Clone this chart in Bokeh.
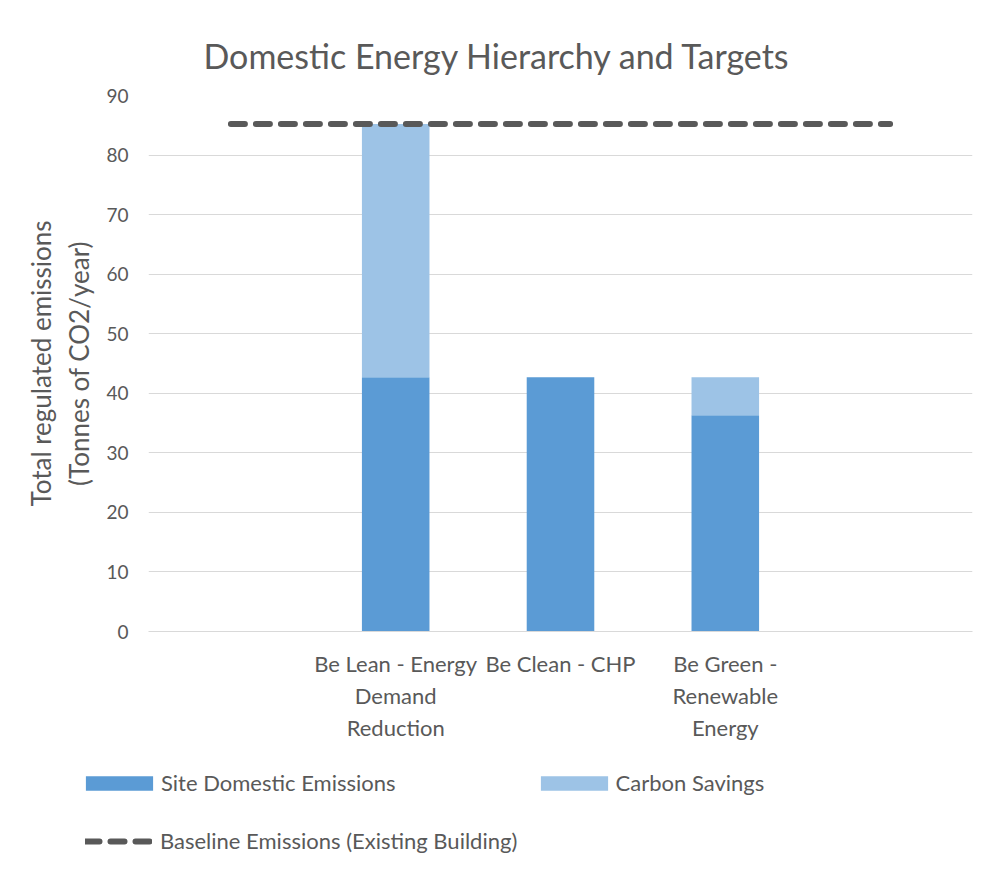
from bokeh.plotting import figure
from bokeh.models import FactorRange, Range1d, Legend, LegendItem, ColumnDataSource
from bokeh.layouts import column, row
from bokeh.embed import file_html
from bokeh.resources import INLINE

# ---- data ----
categories = ["", "Be Lean - Energy\nDemand\nReduction", "Be Clean - CHP",
              "Be Green -\nRenewable\nEnergy", " "]
bar_categories = categories[1:4]
site_emissions = [42.7, 42.7, 36.3]
carbon_savings = [42.5, 0.0, 6.4]
baseline = [85.2, 85.2, 85.2, 85.2, 85.2]
y_ticks = [0, 10, 20, 30, 40, 50, 60, 70, 80, 90]
legend_labels = ["Site Domestic Emissions", "Carbon Savings",
                 "Baseline Emissions (Existing Building)"]

FONT = "Lato"
TXT = "#595959"
DARK = "#5B9BD5"
LIGHT = "#9DC3E6"
BASE = "#595959"

p = figure(width=985, height=750, x_range=FactorRange(*categories),
           y_range=Range1d(0, 90), output_backend="svg", toolbar_location=None,
           title="Domestic Energy Hierarchy and Targets",
           min_border_left=148, min_border_right=13, min_border_top=95,
           min_border_bottom=119)

p.title.text_font = FONT
p.title.text_font_size = "34px"
p.title.text_font_style = "normal"
p.title.text_color = TXT
p.title.align = "left"
p.title.offset = 55
p.title.standoff = 39

src = ColumnDataSource(dict(x=bar_categories, site=site_emissions, savings=carbon_savings))
p.vbar_stack(["site", "savings"], x="x", width=0.41, source=src,
             color=[DARK, LIGHT], line_color=None)

bsrc = ColumnDataSource(dict(x=categories, y=baseline))
p.line(x="x", y="y", source=bsrc, line_color=BASE, line_width=6,
       line_dash="14 11", line_cap="round")

p.outline_line_color = None
p.xgrid.grid_line_color = None
p.ygrid.grid_line_color = "#D9D9D9"
p.ygrid.grid_line_width = 1

p.yaxis.ticker = y_ticks
p.yaxis.axis_line_color = None
p.yaxis.major_tick_line_color = None
p.yaxis.minor_tick_line_color = None
p.yaxis.major_label_text_font = FONT
p.yaxis.major_label_text_font_size = "19px"
p.yaxis.major_label_text_color = TXT
p.yaxis.major_label_standoff = 14
p.yaxis.axis_label = "Total regulated emissions\n(Tonnes of CO2/year)"
p.yaxis.axis_label_text_font = FONT
p.yaxis.axis_label_text_font_size = "26px"
p.yaxis.axis_label_text_font_style = "normal"
p.yaxis.axis_label_text_color = TXT
p.yaxis.axis_label_standoff = 8

p.xaxis.axis_line_color = "#D9D9D9"
p.xaxis.major_tick_line_color = None
p.xaxis.minor_tick_line_color = None
p.xaxis.major_label_text_font = FONT
p.xaxis.major_label_text_font_size = "22px"
p.xaxis.major_label_text_color = TXT
p.xaxis.major_label_standoff = 12

# ---- legend panel (separate figure below the chart) ----
q = figure(width=985, height=134, x_range=Range1d(0, 985), y_range=Range1d(0, 134),
           output_backend="svg", toolbar_location=None,
           min_border_left=0, min_border_right=0, min_border_top=0, min_border_bottom=0)
q.axis.visible = False
q.xgrid.grid_line_color = None
q.ygrid.grid_line_color = None
q.outline_line_color = None

nan = float("nan")
dummy = ColumnDataSource(dict(x=[nan], top=[nan], y=[nan]))
g1 = q.vbar(x="x", top="top", width=1, source=dummy, color=DARK, line_color=None)
g2 = q.vbar(x="x", top="top", width=1, source=dummy, color=LIGHT, line_color=None)
g3 = q.line(x="x", y="y", source=dummy, line_color=BASE, line_width=6,
            line_dash="14 11", line_cap="round")

leg1 = Legend(items=[LegendItem(label=legend_labels[0], renderers=[g1]),
                     LegendItem(label=legend_labels[1], renderers=[g2])],
              orientation="horizontal", location=(77, 88),
              glyph_width=84, glyph_height=18, label_standoff=0, spacing=136)
leg2 = Legend(items=[LegendItem(label=legend_labels[2], renderers=[g3])],
              orientation="horizontal", location=(85, 30),
              glyph_width=67, glyph_height=14, label_standoff=8)
for lg in (leg1, leg2):
    lg.padding = 0
    lg.margin = 0
    lg.border_line_color = None
    lg.background_fill_alpha = 0
    lg.label_text_font = FONT
    lg.label_text_font_size = "22px"
    lg.label_text_color = TXT
    lg.label_height = 24
    q.add_layout(lg, "center")

open("out.html", "w").write(file_html(column(p, row(q), spacing=0), INLINE))
